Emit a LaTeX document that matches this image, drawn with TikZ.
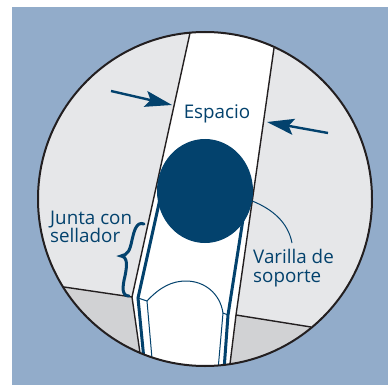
\documentclass[tikz,border=0pt]{standalone}
\usepackage{fontspec}
\setmainfont{Open Sans}
\usepackage{tikz}
\usetikzlibrary{positioning, arrows.meta, calc, shapes.geometric}
\definecolor{skyblue}{HTML}{92ACCA}
\definecolor{wallgray}{HTML}{E6E7E9}
\definecolor{basegray}{HTML}{D1D2D4}
\definecolor{navy}{HTML}{03426D}
\definecolor{edge}{HTML}{231F20}

\begin{document}
\begin{tikzpicture}[x=1pt, y=-1pt,
    label/.style={text=navy, font=\fontsize{18.8}{18.5}\selectfont, align=left, inner sep=0pt},
    wall/.style={draw=edge, line width=1.4pt, line join=miter},
    rodline/.style={draw=navy, line width=3pt},
    thinline/.style={draw=navy, line width=1pt},
    gap/.style={draw=navy, line width=2.4pt, -{Stealth[length=27pt, width=16pt, inset=5pt]}}]
  \useasboundingbox (0,0) rectangle (388,385);
  \fill[skyblue] (12,7) rectangle (388,385);

  % corner points of the joint
  \coordinate (ltop) at (190,33);
  \coordinate (lkink) at (132,297);
  \coordinate (lbot) at (140,353);
  \coordinate (lout) at (64,287);
  \coordinate (rtop) at (274,48);
  \coordinate (rkink) at (236,315);
  \coordinate (rbot) at (230,364);
  \coordinate (rout) at (311,327);

  \begin{scope}
    \clip (205,199) circle (167pt);
    \fill[wallgray] (30,20) rectangle (380,370);
    \fill[basegray] (lout) -- (lkink) -- (lbot) -- (100,380) -- (20,300) -- cycle;
    \fill[basegray] (rout) -- (rkink) -- (rbot) -- (300,380) -- (360,330) -- cycle;
    \fill[white] (ltop) -- (lkink) -- (lbot) -- (140,380) -- (230,380) -- (rbot) -- (rkink) -- (rtop) -- (274,20) -- (190,20) -- cycle;
    \draw[wall] (ltop) -- (lkink) -- (lbot);
    \draw[wall] (rtop) -- (rkink) -- (rbot);
    \draw[wall] (lout) -- (lkink);
    \draw[wall] (rout) -- (rkink);
    % backer edges and the panel end
    \draw[rodline] (162,190) -- (138,298) -- (145,370);
    \draw[rodline] (246,200) -- (228,315) -- (224,370);
    \draw[thinline] (138,298) -- (147,301) -- (153,370);
    \draw[thinline] (228,315) -- (223,313) -- (218,370);
    \draw[thinline] (147,301) .. controls (160,287) and (172,281) .. (186,281)
      .. controls (204,281) and (220,293) .. (223,313);
  \end{scope}
  \node[circle, draw=edge, line width=2pt, minimum size=334pt, inner sep=0pt] (lens) at (205,199) {};

  \node[ellipse, fill=navy, minimum width=96pt, minimum height=104pt, inner sep=0pt] (rod) at (205,191) {};
  \node[label] (espacio) at (217,114) {Espacio};
  \node[label, anchor=west] (junta) at (50,227) {Junta con\\sellador};
  \node[label, anchor=west] (varilla) at (253,268) {Varilla de\\soporte};

  \coordinate (lfree) at (111,91);
  \coordinate (ltip) at (172,105);
  \coordinate (rfree) at (328,133);
  \coordinate (rtip) at (267,122);
  \draw[gap] (lfree) -- (ltip);
  \draw[gap] (rfree) -- (rtip);

  \draw[thinline] (rod.-12) .. controls (272,209) and (288,222) .. (292,243);
  % sealant brace
  \coordinate (bracehigh) at (144,224);
  \coordinate (bracemid) at (121,256);
  \coordinate (bracelow) at (129,296);
  \draw[navy, line width=3pt, line cap=round] (bracehigh)
    .. controls (136,221) and (134,232) .. (132,240)
    .. controls (130,250) and (128,255) .. (bracemid)
    .. controls (128,257) and (127,266) .. (125,276)
    .. controls (122,288) and (122,296) .. (bracelow);
\end{tikzpicture}
\end{document}
